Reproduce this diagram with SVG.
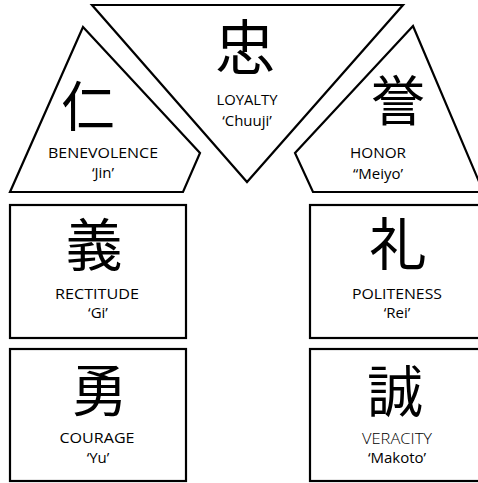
<svg xmlns="http://www.w3.org/2000/svg" width="478" height="483" viewBox="0 0 478 483">
<style>
.s{fill:#fff;stroke:#000;stroke-width:2.2;stroke-linejoin:miter}
.k{font-family:"Noto Sans CJK JP","Noto Sans CJK SC",sans-serif;font-weight:400;text-anchor:middle;fill:#000}
.t{font-family:"Open Sans","Liberation Sans",sans-serif;font-size:15px;text-anchor:middle;fill:#000}
.v{font-weight:300}
</style>
<rect width="478" height="483" fill="#fff"/>
<g id="loyalty">
<polygon class="s" points="92,5 403,5 247,182"/>
<text class="k" x="245" y="70" font-size="60">忠</text>
<text class="t" x="247" y="105" textLength="61" lengthAdjust="spacingAndGlyphs">LOYALTY</text>
<text class="t" x="247" y="126">‘Chuuji’</text>
</g>
<g id="benevolence">
<polygon class="s" points="83,27 200,153 183,192 10,192"/>
<text class="k" x="88" y="127" font-size="54">仁</text>
<text class="t" x="103" y="158" textLength="110" lengthAdjust="spacingAndGlyphs">BENEVOLENCE</text>
<text class="t" x="103" y="178">‘Jin’</text>
</g>
<g id="honor">
<polygon class="s" points="413,26 480,184 480,192 313,192 295,153"/>
<text class="k" x="398" y="121" font-size="54">誉</text>
<text class="t" x="378" y="158" textLength="56" lengthAdjust="spacingAndGlyphs">HONOR</text>
<text class="t" x="378" y="179">“Meiyo’</text>
</g>
<g id="rectitude">
<rect class="s" x="10" y="205" width="176" height="133"/>
<text class="k" x="94" y="266" font-size="57">義</text>
<text class="t" x="97" y="299" textLength="84" lengthAdjust="spacingAndGlyphs">RECTITUDE</text>
<text class="t" x="98" y="318">‘Gi’</text>
</g>
<g id="politeness">
<rect class="s" x="310" y="205" width="172" height="133"/>
<text class="k" x="398" y="265" font-size="57">礼</text>
<text class="t" x="397" y="299" textLength="90" lengthAdjust="spacingAndGlyphs">POLITENESS</text>
<text class="t" x="397" y="318">‘Rei’</text>
</g>
<g id="courage">
<rect class="s" x="10" y="349" width="176" height="132"/>
<text class="k" x="99" y="411" font-size="56">勇</text>
<text class="t" x="97" y="443" textLength="75" lengthAdjust="spacingAndGlyphs">COURAGE</text>
<text class="t" x="98" y="463">‘Yu’</text>
</g>
<g id="veracity">
<rect class="s" x="310" y="349" width="172" height="132"/>
<text class="k" x="395" y="412" font-size="56">誠</text>
<text class="t v" x="397" y="444" textLength="70" lengthAdjust="spacingAndGlyphs">VERACITY</text>
<text class="t" x="397" y="463">‘Makoto’</text>
</g>
<g id="connectors"></g>
</svg>
